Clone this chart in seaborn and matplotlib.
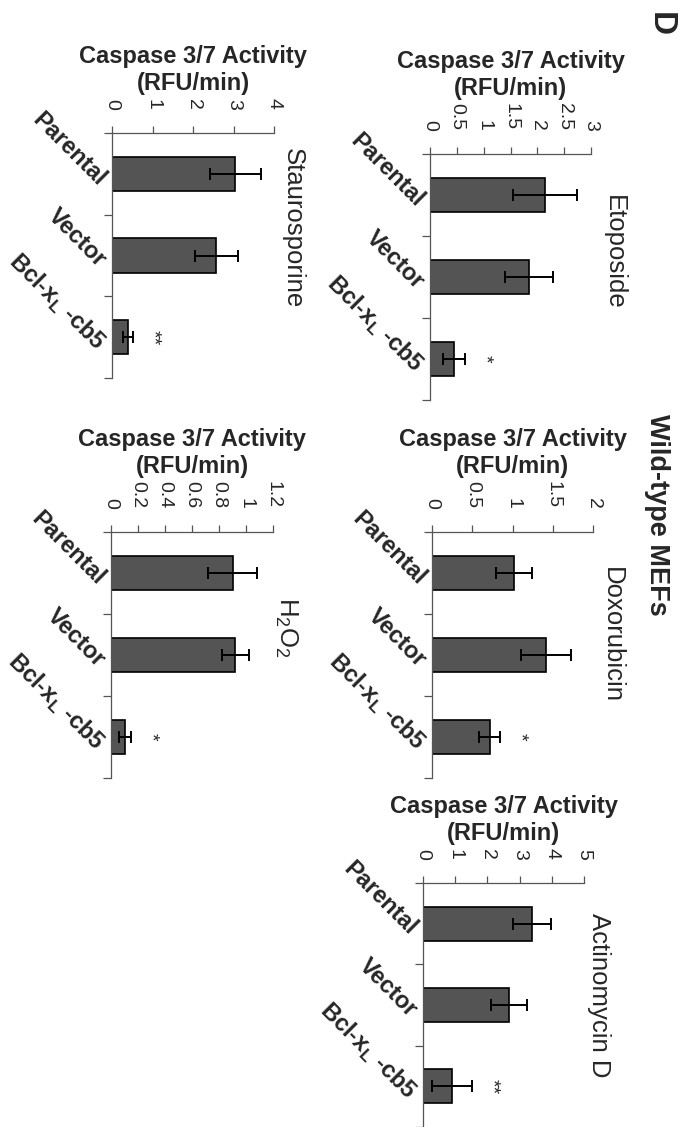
import numpy as np
import matplotlib
matplotlib.use("Agg")
import matplotlib.pyplot as plt
import seaborn as sns

categories = ["Parental", "Vector", "Bcl-xL-cb5"]
cat_labels = ["Parental", "Vector", r"Bcl-x$_\mathbf{L}$ -cb5"]

etoposide = [2.14, 1.84, 0.45]
etoposide_err = [0.60, 0.45, 0.20]
doxorubicin = [1.02, 1.42, 0.72]
doxorubicin_err = [0.22, 0.31, 0.13]
actinomycin = [3.38, 2.67, 0.90]
actinomycin_err = [0.60, 0.56, 0.63]
staurosporine = [3.04, 2.58, 0.40]
staurosporine_err = [0.63, 0.53, 0.12]
h2o2 = [0.90, 0.92, 0.104]
h2o2_err = [0.18, 0.10, 0.045]

panel_titles = ["Etoposide", "Doxorubicin", "Actinomycin D", "Staurosporine", r"H$_2$O$_2$"]
panel_ticks = [[0, 0.5, 1, 1.5, 2, 2.5, 3], [0, 0.5, 1, 1.5, 2], [0, 1, 2, 3, 4, 5],
               [0, 1, 2, 3, 4], [0, 0.2, 0.4, 0.6, 0.8, 1, 1.2]]
signif = ["*", "*", "**", "**", "*"]

sns.set_style("ticks")
plt.rcParams["font.family"] = ["Liberation Sans", "DejaVu Sans"]
plt.rcParams["mathtext.fontset"] = "custom"
plt.rcParams["mathtext.rm"] = "Liberation Sans"
plt.rcParams["mathtext.bf"] = "Liberation Sans:bold"

W, H = 690, 1127
fig = plt.figure(figsize=(W / 100, H / 100), dpi=100)

# axes boxes in pixels (left, top, right, bottom) and title position in axes coords
layout = [
    ((430, 154, 591, 400), (1.07, 0.60)),
    ((432, 532, 593, 778), (1.04, 0.58)),
    ((423, 883, 584, 1127), (1.02, 0.54)),
    ((112, 133, 274, 378), (1.04, 0.61)),
    ((111, 532, 273, 778), (1.00, 0.61)),
]
values = [etoposide, doxorubicin, actinomycin, staurosporine, h2o2]
errors = [etoposide_err, doxorubicin_err, actinomycin_err, staurosporine_err, h2o2_err]

spine_col = "#555555"
pos = np.arange(len(categories))

for i in range(5):
    (x0, y0, x1, y1), (tx, ty) = layout[i]
    ax = fig.add_axes([x0 / W, 1 - y1 / H, (x1 - x0) / W, (y1 - y0) / H])
    sns.barplot(x=values[i], y=categories, orient="h", color="#545454", saturation=1,
                edgecolor="black", linewidth=1.2, width=0.42, ax=ax)
    ax.errorbar(values[i], pos, xerr=errors[i], fmt="none", ecolor="black",
                elinewidth=1.4, capsize=4, capthick=1.4)
    ticks = panel_ticks[i]
    ax.set_xlim(ticks[0], ticks[-1])
    ax.set_ylim(len(categories) - 0.5, -0.5)

    ax.xaxis.tick_top()
    ax.xaxis.set_label_position("top")
    ax.set_xticks(ticks)
    ax.set_xticklabels(["{:g}".format(t) for t in ticks], rotation=-90,
                       ha="center", va="bottom", fontsize=14)
    ax.tick_params(axis="x", length=5, pad=12, color=spine_col, width=0.9)
    ax.set_xlabel("Caspase 3/7 Activity\n(RFU/min)", fontsize=17,
                  fontweight="bold", labelpad=6)

    ax.set_yticks(pos)
    ax.set_yticklabels(cat_labels, rotation=-45, ha="right", va="top",
                       rotation_mode="anchor", fontsize=17, fontweight="bold")
    ax.set_yticks(np.arange(len(categories) + 1) - 0.5, minor=True)
    ax.tick_params(axis="y", which="major", length=0, pad=1)
    ax.tick_params(axis="y", which="minor", length=6, color=spine_col, width=0.9)
    ax.set_ylabel("")

    for s in ["bottom", "right"]:
        ax.spines[s].set_visible(False)
    for s in ["top", "left"]:
        ax.spines[s].set_color(spine_col)
        ax.spines[s].set_linewidth(0.9)

    ax.text(tx, ty, panel_titles[i], transform=ax.transAxes, rotation=-90,
            ha="left", va="center", fontsize=18.5)
    ax.annotate(signif[i], (values[i][2] + errors[i][2], pos[2]), xytext=(8, 0),
                textcoords="offset points", rotation=-90, ha="left", va="center",
                fontsize=14)

fig.text(657 / W, 1 - 515 / H, "Wild-type MEFs", rotation=-90, ha="center",
         va="center", fontsize=19.5, fontweight="bold")
fig.text(660 / W, 1 - 24 / H, "D", rotation=-90, ha="center", va="center",
         fontsize=24, fontweight="bold")

fig.savefig("out.png", dpi=100)
